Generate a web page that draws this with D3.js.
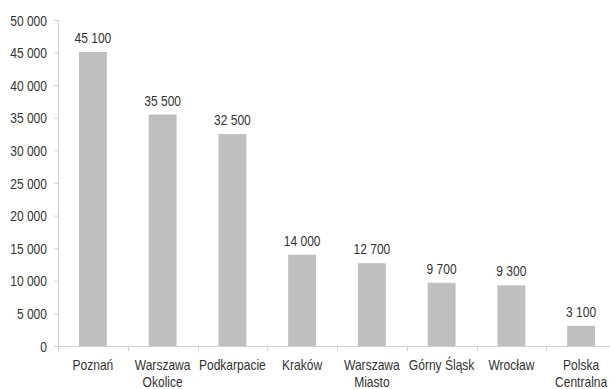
<!DOCTYPE html>
<html><head><meta charset="utf-8">
<script src="https://cdn.jsdelivr.net/npm/d3@7"></script>
<style>body{margin:0;background:#fff}svg{display:block}text{font-family:"Liberation Sans",Arial,sans-serif;fill:#333}</style>
</head><body><svg id="c" width="610" height="389"></svg>
<script>
const categories = [["Poznań"],["Warszawa","Okolice"],["Podkarpacie"],["Kraków"],["Warszawa","Miasto"],["Górny Śląsk"],["Wrocław"],["Polska","Centralna"]];
const values = [45100,35500,32500,14000,12700,9700,9300,3100];
const valueLabels = ["45 100","35 500","32 500","14 000","12 700","9 700","9 300","3 100"];
const yTicks = [0,5000,10000,15000,20000,25000,30000,35000,40000,45000,50000];
const yTickLabels = ["0","5 000","10 000","15 000","20 000","25 000","30 000","35 000","40 000","45 000","50 000"];

(function(){
const svg = d3.select("#c");
const mL = 58, mR = 616, mT = 20, mB = 346;
const fs = 14, sx = 0.86;
const x = d3.scaleBand().domain(d3.range(categories.length)).range([mL, mR]).paddingInner(0.6).paddingOuter(0.3);
const xb = d3.scaleBand().domain(d3.range(categories.length)).range([mL, mR]);
const y = d3.scaleLinear().domain([0,50000]).range([mB, mT]);
const axisColor = "#d0d0d0";

const ya = svg.append("g").attr("transform",`translate(${mL},0)`)
  .call(d3.axisLeft(y).tickValues(yTicks).tickFormat((d,i)=>yTickLabels[i]).tickSize(4).tickPadding(8.8));
ya.attr("font-family",null).attr("font-size",null);
ya.select(".domain").attr("stroke",axisColor);
ya.selectAll(".tick line").attr("stroke",axisColor);
ya.selectAll(".tick text").attr("font-size",fs).attr("fill","#333").attr("transform",`scale(${sx},1)`).attr("dy","0.36em");

svg.append("line").attr("x1",mL).attr("x2",mR).attr("y1",mB+0.5).attr("y2",mB+0.5).attr("stroke",axisColor);
svg.selectAll(".xt").data(d3.range(categories.length+1)).join("line")
  .attr("x1",i=>Math.round(mL + i*xb.step())+0.5).attr("x2",i=>Math.round(mL + i*xb.step())+0.5)
  .attr("y1",mB).attr("y2",mB+5).attr("stroke",axisColor);

svg.selectAll(".bar").data(values).join("rect")
  .attr("x",(d,i)=>x(i)).attr("width",x.bandwidth())
  .attr("y",d=>y(d)).attr("height",d=>mB-y(d)).attr("fill","#bfbfbf");

svg.selectAll(".vl").data(values).join("text")
  .attr("transform",(d,i)=>`translate(${x(i)+x.bandwidth()/2},${y(d)-9}) scale(${sx},1)`)
  .attr("text-anchor","middle").attr("font-size",fs).text((d,i)=>valueLabels[i]);

const cl = svg.selectAll(".cl").data(categories).join("text")
  .attr("text-anchor","middle").attr("font-size",fs)
  .attr("transform",(d,i)=>`translate(${xb(i)+xb.bandwidth()/2},${mB+24}) scale(${sx},1)`);
cl.selectAll("tspan").data(d=>d).join("tspan").attr("x",0).attr("dy",(d,j)=>j?17:0).text(d=>d);
})();
</script></body></html>
